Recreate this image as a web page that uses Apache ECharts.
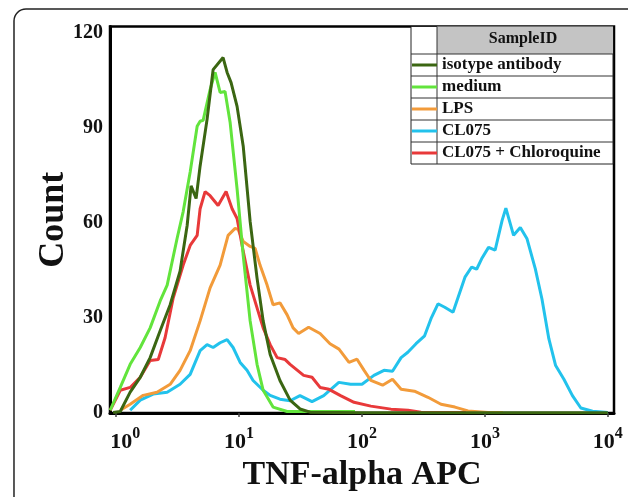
<!DOCTYPE html>
<html>
<head>
<meta charset="utf-8">
<script src="https://cdn.jsdelivr.net/npm/echarts@6/dist/echarts.min.js"></script>
<style>
  html, body { margin: 0; padding: 0; background: #fff; }
  #chart { width: 628px; height: 497px; }
</style>
</head>
<body>
<div id="chart"></div>
<script>
// values (x = TNF-alpha APC, y = count)
const isotypeX = [0.945, 1.08, 1.30, 1.57, 1.89, 2.28, 2.75, 3.31, 3.78, 4.07, 4.47, 4.82, 5.49, 6.15, 7.41, 7.99, 8.61, 9.63, 10.8, 12.3, 14.0, 15.7, 17.9, 21.5, 26.0, 31.3, 37.8, 100, 1000, 10000];
const isotypeY = [0.2, 0.5, 6.6, 11.3, 17.5, 26.0, 34.2, 44.8, 59.2, 71.7, 67.7, 78.0, 92.7, 108.4, 112.2, 107.5, 104.3, 96.8, 84.3, 60.5, 42.6, 29.1, 18.5, 10.3, 4.1, 1.3, 0.3, 0.1, 0.1, 0.1];

const mediumX = [0.894, 1.08, 1.30, 1.57, 1.89, 2.28, 2.60, 3.13, 3.51, 4.00, 4.56, 4.82, 5.10, 5.81, 6.38, 7.01, 7.69, 8.45, 9.63, 10.8, 12.3, 14.0, 15.7, 18.9, 24.6, 87.7];
const mediumY = [0.9, 8.1, 15.4, 20.7, 26.9, 35.4, 40.4, 55.1, 63.6, 76.1, 90.5, 92.1, 92.4, 102.1, 107.5, 101.2, 101.5, 91.8, 70.8, 49.8, 29.1, 15.4, 7.2, 1.9, 0.5, 0.5];

const lpsX = [1.08, 1.30, 1.66, 2.15, 2.75, 3.31, 4.00, 4.82, 5.81, 7.01, 8.14, 9.28, 9.81, 10.8, 12.3, 13.5, 14.8, 16.9, 18.9, 21.5, 24.6, 27.5, 30.5, 36.8, 45.6, 54.9, 65.0, 78.4, 91.1, 104, 118, 147, 177, 208, 267, 344, 439, 570, 728, 1060, 1400];
const lpsY = [0.9, 2.8, 5.6, 6.6, 9.1, 13.5, 19.7, 29.1, 39.5, 46.7, 56.1, 58.3, 58.0, 54.2, 52.6, 52.0, 46.7, 40.4, 34.2, 34.8, 31.0, 26.9, 25.1, 27.1, 25.1, 21.9, 20.2, 16.0, 17.0, 13.5, 10.3, 8.8, 10.7, 7.5, 6.9, 5.0, 2.8, 1.9, 0.7, 0.2, 0.2];

const cl075X = [1.30, 1.57, 2.00, 2.60, 3.31, 4.00, 4.82, 5.49, 6.15, 7.01, 7.99, 8.94, 10.2, 11.6, 13.0, 15.7, 17.9, 21.5, 26.0, 31.3, 39.2, 48.8, 64.8, 80.8, 100, 125, 151, 177, 208, 236, 275, 323, 364, 415, 471, 550, 626, 688, 780, 856, 940, 1070, 1210, 1380, 1480, 1710, 1940, 2200, 2570, 2910, 3310, 3760, 4390, 5150, 6030, 7510, 10000];
const cl075Y = [0.9, 4.1, 6.0, 6.6, 9.1, 12.2, 19.7, 21.6, 20.7, 22.2, 23.2, 20.7, 16.0, 13.5, 10.3, 7.2, 5.6, 4.4, 3.9, 5.5, 3.6, 5.5, 9.7, 9.1, 9.1, 11.9, 13.5, 13.2, 17.5, 19.2, 21.9, 24.4, 29.8, 34.5, 33.4, 31.8, 38.2, 42.9, 46.1, 45.4, 48.7, 52.3, 51.4, 60.8, 64.7, 56.1, 58.6, 55.0, 45.5, 36.0, 23.5, 15.0, 10.7, 5.5, 1.6, 0.6, 0.2];

const chloroX = [0.894, 1.08, 1.30, 1.57, 1.89, 2.20, 2.50, 2.91, 3.51, 4.00, 4.56, 4.82, 5.29, 5.81, 6.75, 7.84, 8.77, 9.63, 10.8, 12.3, 14.0, 15.7, 17.9, 20.4, 23.7, 26.0, 33.5, 39.2, 45.6, 53.9, 66.9, 86.1, 118, 172, 237, 302, 500, 700];
const chloroY = [0.9, 7.2, 8.1, 11.3, 16.6, 16.9, 23.8, 36.3, 46.7, 52.9, 56.1, 64.5, 69.9, 68.6, 65.5, 69.9, 64.5, 61.4, 51.1, 40.4, 33.2, 26.9, 21.6, 17.5, 16.9, 15.4, 11.9, 11.3, 8.1, 7.5, 5.5, 3.4, 2.2, 1.25, 0.9, 0.3, 0.2, 0.2];

const sampleNames = ['isotype antibody', 'medium', 'LPS', 'CL075', 'CL075 + Chloroquine'];
const yTicks = [0, 30, 60, 90, 120];

const serif = '"Liberation Serif", "DejaVu Serif", serif';

function pairs(xs, ys) {
  return xs.map((x, i) => [x, ys[i]]);
}

function line(name, color, xs, ys) {
  return {
    name: name,
    type: 'line',
    data: pairs(xs, ys),
    showSymbol: false,
    symbol: 'none',
    lineStyle: { color: color, width: 3 },
    itemStyle: { color: color }
  };
}

let myChart = echarts.init(document.getElementById('chart'));

// legend table: header row + 5 rows, 22px each
const tblL = 411, tblR = 613, tblT = 26.5, hdrB = 54, rowH = 22;
const tableLines = [];
for (let i = 0; i < sampleNames.length; i++) {
  const y = hdrB + i * rowH;
  tableLines.push({ type: 'line', z: 5, shape: { x1: tblL, y1: y, x2: tblR, y2: y }, style: { stroke: '#333', lineWidth: 1 } });
}

let option = {
  backgroundColor: '#fff',
  animation: false,
  grid: { left: 110, right: 14, top: 26.5, bottom: 81, show: true, borderColor: '#000', borderWidth: 2.5 },
  legend: {
    data: sampleNames,
    orient: 'vertical',
    left: 412,
    top: hdrB,
    padding: 0,
    itemGap: 0,
    itemWidth: 25,
    itemHeight: 3,
    icon: 'rect',
    z: 10,
    textStyle: { fontFamily: serif, fontWeight: 'bold', fontSize: 17, lineHeight: rowH, color: '#111' }
  },
  xAxis: {
    type: 'log',
    logBase: 10,
    min: 0.891,
    max: 11220,
    name: 'TNF-alpha APC',
    nameLocation: 'middle',
    nameGap: 40,
    nameTextStyle: { fontFamily: serif, fontWeight: 'bold', fontSize: 34, color: '#111' },
    axisLine: { lineStyle: { color: '#000', width: 3 } },
    axisTick: { show: true, length: 4, lineStyle: { color: '#444', width: 1.5 } },
    splitLine: { show: false },
    axisLabel: {
      showMinLabel: false,
      showMaxLabel: false,
      margin: 13,
      formatter: function (v) {
        const e = Math.round(Math.log10(v));
        // first label sits a bit right of its tick, clear of the y axis
        return (e === 0 ? '{bp|10}' : '{b|10}') + '{s|' + e + '}';
      },
      rich: {
        b: { fontFamily: serif, fontWeight: 'bold', fontSize: 22, lineHeight: 32, color: '#111' },
        bp: { fontFamily: serif, fontWeight: 'bold', fontSize: 22, lineHeight: 32, color: '#111', padding: [0, 0, 0, 18] },
        s: { fontFamily: serif, fontWeight: 'bold', fontSize: 16, lineHeight: 6, verticalAlign: 'top', color: '#111' }
      }
    }
  },
  yAxis: {
    type: 'value',
    min: 0,
    max: 122,
    interval: 30,
    name: 'Count',
    nameLocation: 'middle',
    nameGap: 38,
    nameMoveOverlap: false,
    nameTextStyle: { fontFamily: serif, fontWeight: 'bold', fontSize: 36, color: '#111' },
    axisLine: { show: true, lineStyle: { color: '#000', width: 3 } },
    axisTick: { show: false },
    splitLine: { show: false },
    axisLabel: {
      showMaxLabel: false,
      margin: 7,
      fontFamily: serif, fontWeight: 'bold', fontSize: 20, color: '#111',
      formatter: function (v) { return yTicks.indexOf(v) >= 0 ? String(v) : ''; }
    }
  },
  graphic: [
    // rounded outer frame of the figure panel
    { type: 'rect', z: 1, silent: true, shape: { x: 14, y: 9, width: 640, height: 540, r: 12 }, style: { fill: 'none', stroke: '#222', lineWidth: 1.5 } },
    { type: 'rect', z: 5, shape: { x: tblL, y: tblT, width: tblR - tblL, height: hdrB + 5 * rowH - tblT }, style: { fill: '#fff', stroke: '#222', lineWidth: 1 } },
    { type: 'rect', z: 5, shape: { x: 437, y: tblT, width: tblR - 437, height: hdrB - tblT }, style: { fill: '#c4c4c4' } },
    { type: 'line', z: 5, shape: { x1: 437, y1: tblT, x2: 437, y2: hdrB + 5 * rowH }, style: { stroke: '#333', lineWidth: 1 } },
    { type: 'text', z: 6, x: 523, y: 39, style: { text: 'SampleID', fontFamily: serif, fontWeight: 'bold', fontSize: 16, fill: '#111', align: 'center', verticalAlign: 'middle' } }
  ].concat(tableLines),
  series: [
    line('CL075', '#22c2ec', cl075X, cl075Y),
    line('LPS', '#f29b3a', lpsX, lpsY),
    line('CL075 + Chloroquine', '#e8393a', chloroX, chloroY),
    line('medium', '#62e43c', mediumX, mediumY),
    line('isotype antibody', '#3b6612', isotypeX, isotypeY)
  ]
};

myChart.setOption(option);
</script>
</body>
</html>
